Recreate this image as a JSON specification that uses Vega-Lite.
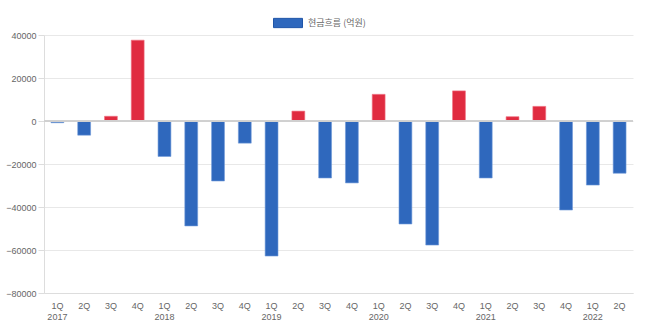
{
  "$schema": "https://vega.github.io/schema/vega-lite/v6.json",
  "width": 589,
  "height": 258,
  "autosize": {"type": "none"},
  "padding": {"left": 44, "top": 35, "right": 25, "bottom": 41},
  "background": "white",
  "config": {
    "view": {"stroke": null},
    "font": "Liberation Sans",
    "axis": {"labelColor": "#666666", "labelFontSize": 9, "labelFont": "Liberation Sans"}
  },
  "data": {
    "values": [
      {"q": "2017 1Q", "v": -800},
      {"q": "2017 2Q", "v": -6600},
      {"q": "2017 3Q", "v": 2200},
      {"q": "2017 4Q", "v": 37600},
      {"q": "2018 1Q", "v": -16500},
      {"q": "2018 2Q", "v": -48800},
      {"q": "2018 3Q", "v": -27900},
      {"q": "2018 4Q", "v": -10300},
      {"q": "2019 1Q", "v": -62800},
      {"q": "2019 2Q", "v": 4600},
      {"q": "2019 3Q", "v": -26500},
      {"q": "2019 4Q", "v": -28800},
      {"q": "2020 1Q", "v": 12400},
      {"q": "2020 2Q", "v": -47900},
      {"q": "2020 3Q", "v": -57700},
      {"q": "2020 4Q", "v": 14000},
      {"q": "2021 1Q", "v": -26500},
      {"q": "2021 2Q", "v": 2000},
      {"q": "2021 3Q", "v": 6800},
      {"q": "2021 4Q", "v": -41400},
      {"q": "2022 1Q", "v": -29800},
      {"q": "2022 2Q", "v": -24300}
    ]
  },
  "layer": [
    {
      "mark": {"type": "bar", "strokeWidth": 1, "strokeOpacity": 0.6},
      "encoding": {
        "x": {
          "field": "q", "type": "ordinal", "sort": null,
          "scale": {"paddingInner": 0.52, "paddingOuter": 0.26},
          "axis": {
            "title": null, "labelAngle": 0, "ticks": false, "labelPadding": 8, "labelLineHeight": 11,
            "domainColor": "#dddddd",
            "labelExpr": "slice(datum.value,5,7) == '1Q' ? [slice(datum.value,5), slice(datum.value,0,4)] : slice(datum.value,5)"
          }
        },
        "y": {
          "field": "v", "type": "quantitative",
          "scale": {"domain": [-80000, 40000], "nice": false},
          "axis": {
            "title": null, "values": [-80000, -60000, -40000, -20000, 0, 20000, 40000],
            "format": "d", "gridColor": "#e8e8e8", "tickColor": "#dddddd", "domainColor": "#dddddd",
            "tickSize": 6, "labelPadding": 2
          }
        },
        "color": {
          "condition": {"test": "datum.v > 0", "value": "#e02b40"},
          "field": "series", "type": "nominal",
          "scale": {"range": ["#2f68bd"]},
          "legend": {
            "title": null, "orient": "none", "legendX": 229, "legendY": -27, "padding": 0,
            "symbolType": "M-1,-0.32H1V0.32H-1Z", "symbolSize": 841,
            "symbolStrokeColor": "#1f55a8", "symbolStrokeWidth": 1,
            "labelFont": "Noto Sans CJK KR", "labelFontSize": 9, "labelColor": "#666666", "labelOffset": 5
          }
        },
        "stroke": {
          "condition": {"test": "datum.v > 0", "value": "#f07080"},
          "value": "#6f9ad8"
        }
      },
      "transform": [{"calculate": "'현금흐름 (억원)'", "as": "series"}]
    },
    {
      "mark": {"type": "rule", "color": "#d0d0d0", "strokeWidth": 1},
      "encoding": {"y": {"datum": 0}}
    }
  ]
}
